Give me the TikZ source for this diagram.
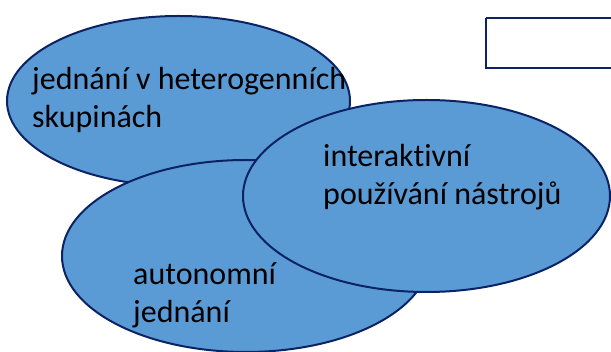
\documentclass[tikz,border=0pt]{standalone}
\usepackage{fontspec}
\setmainfont[Ligatures=NoCommon]{Carlito}
\definecolor{ellfill}{HTML}{5B9BD5}
\definecolor{navy}{HTML}{0B2364}
\begin{document}
\begin{tikzpicture}[x=1pt,y=-1pt,
  blob/.style={draw=navy, line width=2pt, fill=ellfill},
  lbl/.style={inner sep=0pt, align=left, anchor=base west, text=black,
    font=\fontsize{32}{38}\selectfont}]
\useasboundingbox (0,0) rectangle (611,352);
\fill[white] (0,0) rectangle (611,352);
% ellipses
\path[blob] (178.5,101) ellipse [x radius=171.5, y radius=85];
\coordinate (e1) at (178.5,101);
\path[blob] (246,256) ellipse [x radius=184, y radius=96];
\coordinate (e2) at (246,256);
\path[blob] (426.5,196) ellipse [x radius=183.5, y radius=96];
\coordinate (e3) at (426.5,196);
% box
\draw[navy, line width=2.3pt] (486,18) -- (614,18) (486,18) -- (486,68) -- (614,68);
% labels (anchor at baseline of last line)
\node[lbl] (t1) at (32,128) {jednání v heterogenních\\skupinách};
\node[lbl] (t3) at (323,205) {interaktivní\\používání nástrojů};
\node[lbl] (t2) at (133,323) {autonomní\\jednání};
\end{tikzpicture}
\end{document}
